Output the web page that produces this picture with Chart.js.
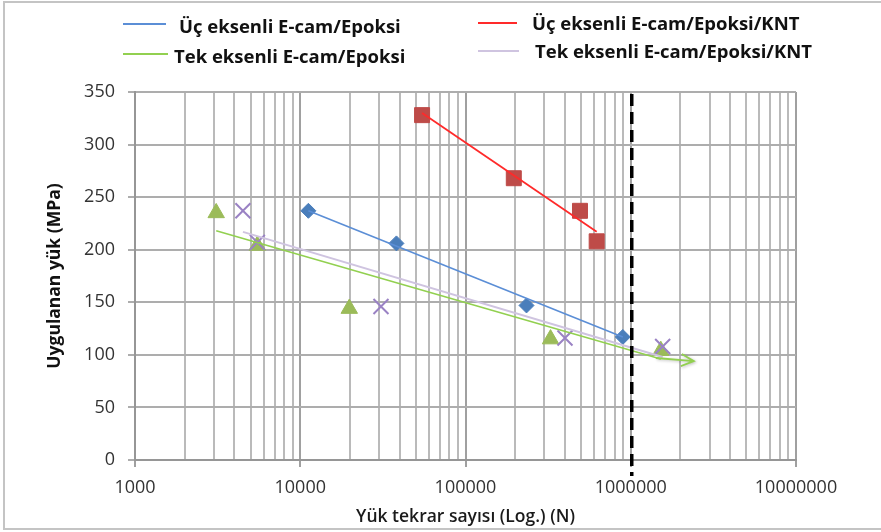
<!DOCTYPE html>
<html>
<head>
<meta charset="utf-8">
<script src="https://cdn.jsdelivr.net/npm/chart.js@4.4.1/dist/chart.umd.min.js"></script>
<style>
    html, body { margin: 0; padding: 0; background: #fff; }
    .chart-wrap { position: relative; width: 881px; height: 532px; overflow: hidden; }
    .frame { position: absolute; left: 3px; top: 1px; width: 1000px; height: 529px; box-sizing: border-box; border: 2px solid #c4c4c4; }
    .chart-wrap canvas { position: absolute; left: 0; top: 0; }
    .legend-text { position: absolute; font-family: 'Open Sans', sans-serif; font-weight: 700; font-size: 18.5px; line-height: 20px; color: #111; white-space: nowrap; }
    .legend-line { position: absolute; height: 2px; }
</style>
</head>
<body>
<div class="chart-wrap">
    <div class="frame"></div>
    <canvas id="chart" width="881" height="532"></canvas>
    <div class="legend-line" style="left:123px; top:23px; width:43px; background:#5b8ed6"></div>
    <div class="legend-text" style="left:179px; top:16px">Üç eksenli E-cam/Epoksi</div>
    <div class="legend-line" style="left:123px; top:53px; width:45px; background:#92d050"></div>
    <div class="legend-text" style="left:174px; top:46px">Tek eksenli E-cam/Epoksi</div>
    <div class="legend-line" style="left:478px; top:22px; width:39px; background:#ff2a2a"></div>
    <div class="legend-text" style="left:532px; top:13px">Üç eksenli E-cam/Epoksi/KNT</div>
    <div class="legend-line" style="left:478px; top:50px; width:41px; background:#cfc4e0"></div>
    <div class="legend-text" style="left:535px; top:41px">Tek eksenli E-cam/Epoksi/KNT</div>
</div>
<script>
// measured points (cycles, MPa)
const ucX = [11200, 38200, 234000, 895000];
const ucY = [237, 206, 147, 117];
const ucKntX = [54600, 196000, 493000, 622000];
const ucKntY = [328, 268, 237, 208];
const tekX = [3100, 5500, 19800, 327000, 1520000];
const tekY = [235, 204, 144, 115, 104];
const tekKntX = [4500, 5500, 30800, 400000, 1560000];
const tekKntY = [237, 207, 146, 116, 108];

// trend line ends
const ucTrendX = [11200, 895000];
const ucTrendY = [237, 117];
const ucKntTrendX = [54600, 622000];
const ucKntTrendY = [330, 217];
const tekTrendX = [3100, 1520000];
const tekTrendY = [218, 96];
const tekKntTrendX = [4500, 1560000];
const tekKntTrendY = [217, 98];

// run-out arrow and 10^6 limit line
const arrowFrom = [1420000, 97];
const arrowTo = [2410000, 94];
const limitCycles = 1000000;

const xDecades = [1000, 10000, 100000, 1000000, 10000000];
const xTickLabels = ['1000', '10000', '100000', '1000000', '10000000'];
const yMin = 0, yMax = 350, yStep = 50;

const toPoints = (xs, ys) => xs.map((x, i) => ({ x, y: ys[i] }));
const labelFont = { family: "'Open Sans', sans-serif", size: 18 };

const trend = (label, xs, ys, color, width) => ({
    label, data: toPoints(xs, ys), showLine: true, borderColor: color,
    borderWidth: width, pointRadius: 0, fill: false,
});
const marks = (label, xs, ys, style, color, radius, border) => ({
    label, data: toPoints(xs, ys), showLine: false, pointStyle: style,
    pointRadius: radius, pointHoverRadius: radius, backgroundColor: color,
    borderColor: color, pointBorderWidth: border,
});

const limitLines = {
    id: 'limitLines',
    afterDatasetsDraw(chart) {
        const { ctx, chartArea, scales: { x, y } } = chart;
        ctx.save();
        // run-out arrow
        const ax1 = x.getPixelForValue(arrowFrom[0]), ay1 = y.getPixelForValue(arrowFrom[1]);
        const ax2 = x.getPixelForValue(arrowTo[0]), ay2 = y.getPixelForValue(arrowTo[1]);
        const ang = Math.atan2(ay2 - ay1, ax2 - ax1);
        ctx.shadowColor = 'rgba(0,0,0,0.25)';
        ctx.shadowBlur = 3;
        ctx.shadowOffsetX = 1;
        ctx.shadowOffsetY = 1;
        ctx.strokeStyle = '#92d050';
        ctx.lineWidth = 1.8;
        ctx.beginPath();
        ctx.moveTo(ax1, ay1);
        ctx.lineTo(ax2, ay2);
        ctx.moveTo(ax2 - 14 * Math.cos(ang - 0.45), ay2 - 14 * Math.sin(ang - 0.45));
        ctx.lineTo(ax2, ay2);
        ctx.lineTo(ax2 - 14 * Math.cos(ang + 0.45), ay2 - 14 * Math.sin(ang + 0.45));
        ctx.stroke();
        ctx.shadowColor = 'transparent';
        // dashed limit line
        const px = x.getPixelForValue(limitCycles) + 1;
        ctx.strokeStyle = '#000';
        ctx.lineWidth = 3.5;
        ctx.setLineDash([12, 6]);
        ctx.beginPath();
        ctx.moveTo(px, chartArea.top + 2);
        ctx.lineTo(px, chartArea.bottom + 16);
        ctx.stroke();
        ctx.restore();
    },
};

new Chart(document.getElementById('chart'), {
    type: 'scatter',
    data: {
        datasets: [
            trend('Üç eksenli E-cam/Epoksi', ucTrendX, ucTrendY, '#5b8ed6', 1.6),
            trend('Üç eksenli E-cam/Epoksi/KNT', ucKntTrendX, ucKntTrendY, '#ff2a2a', 1.8),
            trend('Tek eksenli E-cam/Epoksi/KNT', tekKntTrendX, tekKntTrendY, '#cfc4e0', 2),
            trend('Tek eksenli E-cam/Epoksi', tekTrendX, tekTrendY, '#92d050', 1.6),
            marks('uc', ucX, ucY, 'rectRot', '#4a7ebb', 7.5, 1),
            marks('ucKnt', ucKntX, ucKntY, 'rect', '#be4b48', 10.6, 1),
            marks('tekKnt', tekKntX, tekKntY, 'crossRot', '#9a82c4', 10.6, 2),
            marks('tek', tekX, tekY, 'triangle', '#9bbb59', 9.5, 1),
        ],
    },
    options: {
        responsive: false,
        animation: false,
        devicePixelRatio: 1,
        layout: { padding: { left: 41, top: 92, right: 85, bottom: 0 } },
        plugins: {
            legend: { display: false },
            tooltip: { enabled: false },
        },
        scales: {
            x: {
                type: 'logarithmic',
                min: xDecades[0],
                max: xDecades[xDecades.length - 1],
                afterBuildTicks: (scale) => {
                    const ticks = [];
                    xDecades.forEach((d, i) => {
                        const last = i === xDecades.length - 1 ? 1 : 9;
                        for (let m = 1; m <= last; m++) ticks.push({ value: d * m });
                    });
                    scale.ticks = ticks;
                },
                afterFit: (scale) => { scale.height = 72; },
                ticks: {
                    autoSkip: false,
                    maxRotation: 0,
                    padding: 10,
                    color: '#333',
                    font: labelFont,
                    callback: (value) => {
                        const i = xDecades.indexOf(value);
                        return i >= 0 ? xTickLabels[i] : '';
                    },
                },
                grid: {
                    color: (ctx) => xDecades.includes(ctx.tick && ctx.tick.value) ? '#a0a0a0' : '#bababa',
                    tickColor: (ctx) => xDecades.includes(ctx.tick && ctx.tick.value) ? '#a0a0a0' : 'rgba(0,0,0,0)',
                    lineWidth: 2,
                    tickLength: 7,
                },
                border: { color: '#969696', width: 2 },
                title: {
                    display: true,
                    text: 'Yük tekrar sayısı (Log.) (N)',
                    color: '#1a1a1a',
                    font: { family: "'Open Sans', sans-serif", size: 17.5, weight: 600 },
                },
            },
            y: {
                min: yMin,
                max: yMax,
                afterFit: (scale) => { scale.width = 94; },
                ticks: {
                    stepSize: yStep,
                    padding: 13,
                    color: '#333',
                    font: labelFont,
                },
                grid: { color: '#adadad', lineWidth: 2, tickLength: 7 },
                border: { color: '#969696', width: 2 },
                title: {
                    display: true,
                    text: 'Uygulanan yük (MPa)',
                    color: '#111',
                    font: { family: "'Open Sans', sans-serif", size: 17.5, weight: 700 },
                },
            },
        },
    },
    plugins: [limitLines],
});
</script>
</body>
</html>
